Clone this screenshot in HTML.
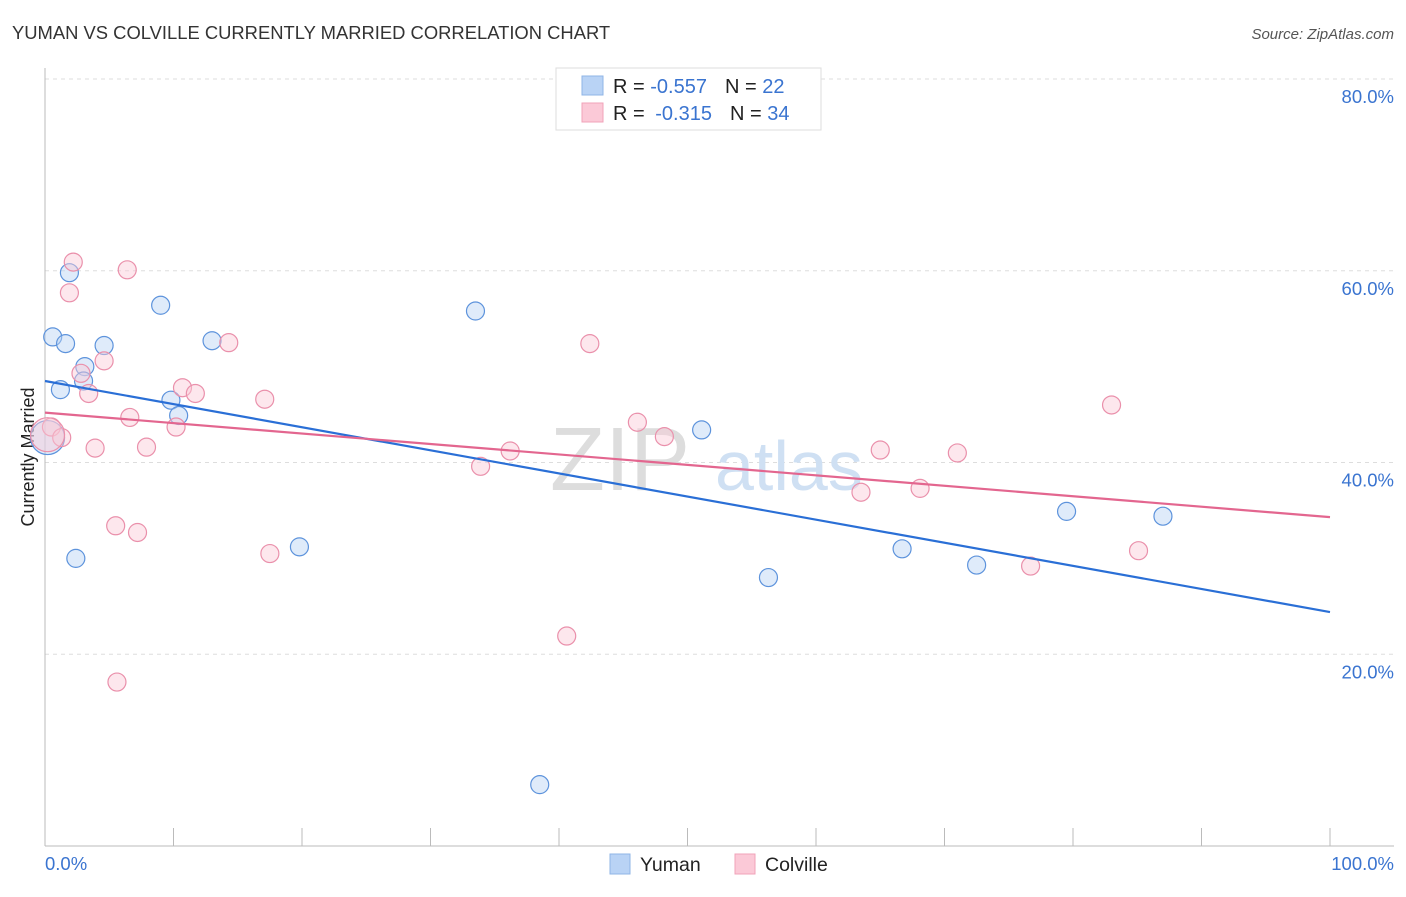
<!DOCTYPE html>
<html><head><meta charset="utf-8"><style>
body{margin:0;background:#fff;font-family:"Liberation Sans",sans-serif;}
svg text{font-family:"Liberation Sans",sans-serif;}
</style></head><body>
<svg id="chart" width="1406" height="892">
<text x="12" y="39" font-size="18.4" fill="#333">YUMAN VS COLVILLE CURRENTLY MARRIED CORRELATION CHART</text>
<text x="1394" y="39" font-size="15" fill="#555" font-style="italic" text-anchor="end">Source: ZipAtlas.com</text>
<g id="grid"></g>
<text x="690" y="490" font-size="90" fill="#ddd" font-family="Liberation Serif" text-anchor="end">ZIP</text>
<text x="715" y="490" font-size="70" fill="#cfe0f3">atlas</text>
<line x1="45" y1="68" x2="45" y2="846" stroke="#bbb"/>
<line x1="45" y1="846" x2="1394" y2="846" stroke="#bbb"/>
<text x="34" y="457" font-size="18" fill="#222" text-anchor="middle" transform="rotate(-90 34 457)">Currently Married</text>
<text x="45" y="870" font-size="18.5" fill="#3a74d0">0.0%</text>
<text x="1394" y="870" font-size="18.5" fill="#3a74d0" text-anchor="end">100.0%</text>
<g id="marks"></g>
<g>
<rect x="556" y="68" width="265" height="62" fill="#fff" stroke="#ddd"/>
<rect x="582" y="76" width="21" height="19" fill="#b9d3f5" stroke="#8fb4e6"/>
<rect x="582" y="103" width="21" height="19" fill="#fbc9d7" stroke="#f0a3b9"/>
<text x="613" y="93" font-size="20" fill="#222">R = <tspan fill="#3a74d0">-0.557</tspan><tspan dx="18">N = </tspan><tspan fill="#3a74d0">22</tspan></text>
<text x="613" y="120" font-size="20" fill="#222">R = <tspan fill="#3a74d0" dx="5">-0.315</tspan><tspan dx="18">N = </tspan><tspan fill="#3a74d0">34</tspan></text>
</g>
<g>
<rect x="610" y="854" width="20" height="20" fill="#b9d3f5" stroke="#8fb4e6"/>
<text x="640" y="871" font-size="19.5" fill="#222">Yuman</text>
<rect x="735" y="854" width="20" height="20" fill="#fbc9d7" stroke="#f0a3b9"/>
<text x="765" y="871" font-size="19.5" fill="#222">Colville</text>
</g>
</svg>
<script>
const yTicks=[20,40,60,80];
const xTicks=[0,10,20,30,40,50,60,70,80,90,100];
const yumanX=[0.6,1.6,1.9,1.2,3.1,3.0,4.6,9.0,9.8,10.4,13.0,33.5,51.1,2.4,19.8,38.5,56.3,66.7,72.5,79.5,87.0,0.2];
const yumanY=[53.1,52.4,59.8,47.6,50.0,48.5,52.2,56.4,46.5,44.9,52.7,55.8,43.4,30.0,31.2,6.4,28.0,31.0,29.3,34.9,34.4,42.6];
const colvilleX=[2.2,6.4,1.9,14.3,4.6,2.8,3.4,10.7,11.7,17.1,6.6,10.2,0.5,1.3,3.9,7.9,5.5,7.2,17.5,5.6,42.4,46.1,48.2,36.2,33.9,40.6,65.0,63.5,68.1,71.0,83.0,85.1,76.7,0.2];
const colvilleY=[60.9,60.1,57.7,52.5,50.6,49.3,47.2,47.8,47.2,46.6,44.7,43.7,43.7,42.6,41.5,41.6,33.4,32.7,30.5,17.1,52.4,44.2,42.7,41.2,39.6,21.9,41.3,36.9,37.3,41.0,46.0,30.8,29.2,42.9];
const yumanTrend=[48.5,24.4];
const colvilleTrend=[45.2,34.3];
const NS="http://www.w3.org/2000/svg";
const xs=v=>45+v/100*1285;
const ys=v=>846-v*9.5875;
const grid=document.getElementById('grid');
const marks=document.getElementById('marks');
function mk(tag,attrs,parent){const e=document.createElementNS(NS,tag);for(const k in attrs)e.setAttribute(k,attrs[k]);parent.appendChild(e);return e;}
yTicks.forEach(t=>{
 const l=mk('line',{x1:45,x2:1394,y1:ys(t),y2:ys(t),stroke:'#ddd','stroke-dasharray':'4 4'},grid);
 
 
 const tx=mk('text',{x:1394,y:ys(t)+24,'font-size':18.5,fill:'#3a74d0','text-anchor':'end'},grid);
 tx.textContent=t.toFixed(1)+'%';
 
 
});
xTicks.forEach(t=>{
 const l=mk('line',{x1:xs(t),x2:xs(t),y1:828,y2:846,stroke:'#bbb'},grid);
 
 
});
function pts(X,Y,fill,stroke,name,bigIdx){
 X.forEach((x,i)=>{
  const c=mk('circle',{cx:xs(x),cy:ys(Y[i]),r:i===bigIdx?17:9,fill:fill,'fill-opacity':0.45,stroke:stroke,'stroke-width':1.2},marks);
  
  
 });
}
pts(yumanX,yumanY,'#b9d3f5','#5d93dc','yuman-point',21);
pts(colvilleX,colvilleY,'#fbc9d7','#ea90ab','colville-point',33);
const l1=mk('line',{x1:xs(0),y1:ys(yumanTrend[0]),x2:xs(100),y2:ys(yumanTrend[1]),stroke:'#2a6fd6','stroke-width':2.2},marks);


const l2=mk('line',{x1:xs(0),y1:ys(colvilleTrend[0]),x2:xs(100),y2:ys(colvilleTrend[1]),stroke:'#e3668f','stroke-width':2.2},marks);


</script>
</body></html>
